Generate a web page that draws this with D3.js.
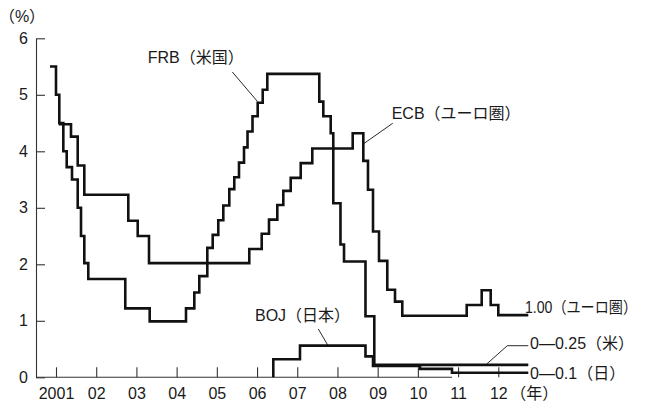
<!DOCTYPE html>
<html>
<head>
<meta charset="utf-8">
<script src="https://cdn.jsdelivr.net/npm/d3@7"></script>
<style>
body { margin: 0; background: #fff; }
text { font-family: "Liberation Sans", Arial, "Noto Sans CJK JP", sans-serif; font-size: 16px; fill: #1a1a1a; }
</style>
</head>
<body>
<div id="svg-area"></div>
<script>
// Policy rates: step starts (decimal year) and rate (%)
const frbYears = [2000.851, 2001.0, 2001.082, 2001.182, 2001.266, 2001.398, 2001.540, 2001.622, 2001.704, 2001.803,
  2002.723, 2003.330, 2004.233, 2004.440, 2004.564, 2004.763, 2004.897, 2005.036, 2005.161, 2005.310, 2005.434,
  2005.551, 2005.676, 2005.763, 2005.887, 2006.016, 2006.141, 2006.255, 2007.548, 2007.648, 2007.832, 2007.896,
  2008.075, 2008.163, 2008.697, 2008.916, 2012.746]
const frbRates = [5.5, 5.0, 4.5, 4.0, 3.72, 3.5, 3.0, 2.5, 2.02, 1.74,
  1.22, 0.99, 1.22, 1.5, 1.79, 2.29, 2.52, 2.78, 3.04, 3.33, 3.54,
  3.8, 4.07, 4.35, 4.62, 4.86, 5.09, 5.37, 4.88, 4.62, 4.32, 3.08,
  2.35, 2.05, 1.08, 0.22, 0.22]

const ecbYears = [2001.067, 2001.373, 2001.540, 2001.704, 2002.798, 2003.032, 2003.313, 2005.807, 2006.116, 2006.297,
  2006.504, 2006.653, 2006.837, 2007.086, 2007.374, 2008.379, 2008.643, 2008.759, 2008.884, 2009.033,
  2009.239, 2009.431, 2009.612, 2011.214, 2011.587, 2011.811, 2012.0, 2012.746]
const ecbRates = [4.48, 4.26, 3.75, 3.23, 2.77, 2.5, 2.02, 2.27, 2.54, 2.79,
  3.05, 3.3, 3.53, 3.79, 4.05, 4.32, 3.83, 3.32, 2.58, 2.06,
  1.55, 1.34, 1.09, 1.28, 1.54, 1.28, 1.1, 1.1]

const bojYears = [2006.404, 2006.404, 2007.068, 2008.697, 2008.884, 2010.053, 2010.848, 2012.746]
const bojRates = [0, 0.32, 0.56, 0.37, 0.2, 0.15, 0.08, 0.08]

const yearTicks = [2001, 2002, 2003, 2004, 2005, 2006, 2007, 2008, 2009, 2010, 2011, 2012]
const yearLabels = ["2001", "02", "03", "04", "05", "06", "07", "08", "09", "10", "11", "12"]
const rateTicks = [0, 1, 2, 3, 4, 5, 6]

// labels: text, left x (year), middle y (rate); leaders as [year, rate] points
const labels = [
  { text: "FRB（米国）", x: 2003.28, y: 5.664, leader: [[2005.385, 5.404], [2006.011, 4.881]] },
  { text: "ECB（ユーロ圏）", x: 2009.348, y: 4.673, leader: [[2009.374, 4.496], [2008.643, 4.13]] },
  { text: "BOJ（日本）", x: 2005.949, y: 1.103, leader: [[2007.523, 0.855], [2007.757, 0.572]] },
  { text: "1.00（ユーロ圏）", x: 2012.664, y: 1.232, leader: null },
  { text: "0—0.25（米）", x: 2012.788, y: 0.602, leader: [[2011.711, 0.235], [2012.224, 0.559], [2012.746, 0.559]] },
  { text: "0—0.1（日）", x: 2012.788, y: 0.071, leader: null }
]

const svgWidth = 647
const svgHeight = 403

const x = d3.scaleLinear().domain([2001, 2012]).range([56, 498.3])
const y = d3.scaleLinear().domain([0, 6]).range([377.3, 38.3])
const axisLeftX = 36
const axisEndYear = 2010.85

let svg = d3.select("#svg-area")
    .append("svg")
    .attr("width", svgWidth)
    .attr("height", svgHeight)

// y axis, ticks pointing inward
let yAxis = svg.append("g")
    .attr("transform", `translate(${axisLeftX},0)`)
    .call(d3.axisLeft(y).tickValues(rateTicks).tickSize(-9).tickSizeOuter(0).tickPadding(8).tickFormat(d3.format("d")))
yAxis.selectAll("path, line").attr("stroke", "#333").attr("stroke-width", 1.1)
yAxis.selectAll("text").attr("font-size", null).attr("font-family", null)

// x axis, ticks pointing up
let xAxis = svg.append("g")
    .attr("transform", `translate(0,${y(0)})`)
    .call(d3.axisBottom(x).tickValues(yearTicks).tickSize(-10).tickPadding(10.5).tickFormat((d, i) => yearLabels[i]))
xAxis.select(".domain").remove()
xAxis.selectAll("line").attr("stroke", "#333").attr("stroke-width", 1.1)
xAxis.selectAll("text").attr("font-size", null).attr("font-family", null)

svg.append("line")
    .attr("x1", axisLeftX)
    .attr("x2", x(axisEndYear))
    .attr("y1", y(0))
    .attr("y2", y(0))
    .attr("stroke", "#333")
    .attr("stroke-width", 1.1)

svg.append("text")
    .attr("x", x(2012) + 12)
    .attr("y", y(0) + 10.5)
    .attr("dy", "0.71em")
    .text("（年）")

svg.append("text")
    .attr("x", 22)
    .attr("y", 16.7)
    .attr("dy", "0.35em")
    .attr("text-anchor", "middle")
    .text("（%）")

const stepLine = d3.line()
    .x(d => x(d[0]))
    .y(d => y(d[1]))
    .curve(d3.curveStepAfter)

const series = [
  d3.zip(frbYears, frbRates),
  d3.zip(ecbYears, ecbRates),
  d3.zip(bojYears, bojRates)
]

svg.selectAll("path.rate")
    .data(series)
    .enter()
    .append("path")
    .attr("class", "rate")
    .attr("d", stepLine)
    .attr("fill", "none")
    .attr("stroke", "#111")
    .attr("stroke-width", 2.6)

svg.selectAll("path.leader")
    .data(labels.filter(d => d.leader))
    .enter()
    .append("path")
    .attr("class", "leader")
    .attr("d", d => d3.line().x(p => x(p[0])).y(p => y(p[1]))(d.leader))
    .attr("fill", "none")
    .attr("stroke", "#111")
    .attr("stroke-width", 0.9)

svg.selectAll("text.label")
    .data(labels)
    .enter()
    .append("text")
    .attr("class", "label")
    .attr("x", d => x(d.x))
    .attr("y", d => y(d.y))
    .attr("dy", "0.35em")
    .text(d => d.text)
    .each(function (d) {
      // squeeze a label that would run too close to the right edge
      const room = svgWidth - 10 - x(d.x)
      if (this.getComputedTextLength() > room) {
        d3.select(this).attr("textLength", room).attr("lengthAdjust", "spacingAndGlyphs")
      }
    })
</script>
</body>
</html>
